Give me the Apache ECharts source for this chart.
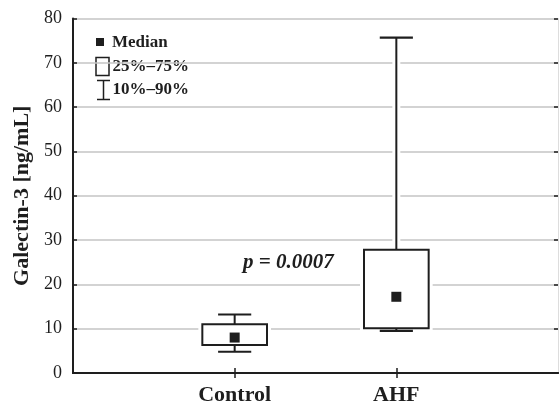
<!DOCTYPE html>
<html><head><meta charset="utf-8">
<script src="https://cdn.jsdelivr.net/npm/echarts@6/dist/echarts.min.js"></script>
<style>html,body{margin:0;padding:0;background:#fff}#c{width:559px;height:403px}</style>
</head><body><div id="c"></div>
<script>
const categories = ['', 'Control', 'AHF', ''];
const groups = ['Control', 'AHF'];
// [10th pct, 25th pct, median, 75th pct, 90th pct]
const p10 = [4.8, 9.5];
const q1 = [6.3, 10.1];
const medians = [8.0, 17.2];
const q3 = [11.0, 27.8];
const p90 = [13.2, 75.7];
const yTicks = [0, 10, 20, 30, 40, 50, 60, 70, 80];
const pText = 'p = 0.0007';

const data = groups.map((g, i) => [g, p10[i], q1[i], medians[i], q3[i], p90[i]]);
const serif = '"Liberation Serif", "DejaVu Serif", serif';
const ink = '#1e1e1e';

const chart = echarts.init(document.getElementById('c'), null, {renderer: 'canvas'});
const showIdx = (idx) => idx === 1 || idx === 2;

chart.setOption({
  animation: false,
  grid: {left: 73, right: 1, top: 18.5, bottom: 30, containLabel: false, outerBoundsMode: 'none'},
  xAxis: [{
    type: 'category', data: categories, boundaryGap: false, position: 'bottom',
    axisLine: {lineStyle: {color: ink, width: 2}},
    axisTick: {inside: true, length: 5, interval: (i) => showIdx(i), lineStyle: {color: ink, width: 1.5}},
    axisLabel: {interval: (i) => showIdx(i), margin: 11, fontFamily: serif, fontWeight: 'bold', fontSize: 22, color: ink},
    splitLine: {show: false}
  }, {
    type: 'category', data: categories, boundaryGap: false, position: 'top',
    axisLine: {lineStyle: {color: ink, width: 2}},
    axisTick: {inside: true, length: 5, interval: (i) => showIdx(i), lineStyle: {color: ink, width: 1.5}},
    axisLabel: {show: false}, splitLine: {show: false}
  }],
  yAxis: [{
    type: 'value', min: 0, max: 80, interval: 10, position: 'left',
    name: 'Galectin-3 [ng/mL]', nameLocation: 'middle', nameGap: 38,
    nameTextStyle: {fontFamily: serif, fontWeight: 'bold', fontSize: 22, color: ink},
    axisLine: {show: true, lineStyle: {color: ink, width: 2}},
    axisTick: {show: true, inside: true, length: 4, lineStyle: {color: ink, width: 1.5}},
    axisLabel: {margin: 11, fontFamily: serif, fontSize: 18, color: ink,
      formatter: (v) => yTicks.includes(v) ? String(v) : ''},
    splitLine: {show: true, lineStyle: {color: '#c4c4c4', width: 1.5}}
  }, {
    type: 'value', min: 0, max: 80, interval: 10, position: 'right',
    axisLine: {show: true, lineStyle: {color: '#dddddd', width: 1}},
    axisTick: {show: true, inside: true, length: 4, lineStyle: {color: ink, width: 1.5}},
    axisLabel: {show: false}, splitLine: {show: false}
  }],
  graphic: [
    {type: 'rect', shape: {x: 96, y: 38, width: 8, height: 8}, style: {fill: ink}},
    {type: 'text', style: {x: 112, y: 42.5, text: 'Median', font: 'bold 17px ' + serif, fill: ink, textVerticalAlign: 'middle'}},
    {type: 'rect', shape: {x: 96, y: 57.5, width: 13, height: 18}, style: {fill: '#fff', stroke: ink, lineWidth: 1.5}},
    {type: 'text', style: {x: 112.5, y: 66.5, text: '25%–75%', font: 'bold 17px ' + serif, fill: ink, textVerticalAlign: 'middle'}},
    {type: 'polyline', shape: {points: [[97, 80.5], [110, 80.5]]}, style: {stroke: ink, lineWidth: 1.5}},
    {type: 'polyline', shape: {points: [[103.5, 80.5], [103.5, 99.5]]}, style: {stroke: ink, lineWidth: 1.5}},
    {type: 'polyline', shape: {points: [[97, 99.5], [110, 99.5]]}, style: {stroke: ink, lineWidth: 1.5}},
    {type: 'text', style: {x: 112.5, y: 90, text: '10%–90%', font: 'bold 17px ' + serif, fill: ink, textVerticalAlign: 'middle'}},
    {type: 'text', style: {x: 243, y: 263, text: pText, font: 'italic bold 21px ' + serif, fill: ink, textVerticalAlign: 'middle'}}
  ],
  series: [{
    type: 'custom',
    xAxisIndex: 0, yAxisIndex: 0,
    data: data,
    encode: {x: 0, y: [1, 2, 3, 4, 5]},
    renderItem: (params, api) => {
      const x = api.value(0);
      const band = api.size([1, 0])[0];
      const bw = band * 0.4;
      const cw = band * 0.205;
      const ms = 10;
      const pLo = api.coord([x, api.value(1)]);
      const pQ1 = api.coord([x, api.value(2)]);
      const pMed = api.coord([x, api.value(3)]);
      const pQ3 = api.coord([x, api.value(4)]);
      const pHi = api.coord([x, api.value(5)]);
      const cx = pMed[0];
      const line = (x1, y1, x2, y2, c, w) => ({type: 'line', shape: {x1, y1, x2, y2}, style: {stroke: c, lineWidth: w}});
      return {type: 'group', children: [
        line(cx, pHi[1], cx, pQ3[1], '#fff', 8),
        line(cx, pQ1[1], cx, pLo[1], '#fff', 8),
        {type: 'rect', shape: {x: cx - bw / 2 - 4, y: pQ3[1] - 2, width: bw + 8, height: pQ1[1] - pQ3[1] + 4}, style: {fill: '#fff'}},
        line(cx, pHi[1], cx, pQ3[1], ink, 2),
        line(cx, pQ1[1], cx, pLo[1], ink, 2),
        line(cx - cw / 2, pHi[1], cx + cw / 2, pHi[1], ink, 2.2),
        line(cx - cw / 2, pLo[1], cx + cw / 2, pLo[1], ink, 2.2),
        {type: 'rect', shape: {x: cx - bw / 2, y: pQ3[1], width: bw, height: pQ1[1] - pQ3[1]}, style: {fill: '#fff', stroke: ink, lineWidth: 2}},
        {type: 'rect', shape: {x: cx - ms / 2, y: pMed[1] - ms / 2, width: ms, height: ms}, style: {fill: ink}}
      ]};
    }
  }]
});
</script></body></html>
